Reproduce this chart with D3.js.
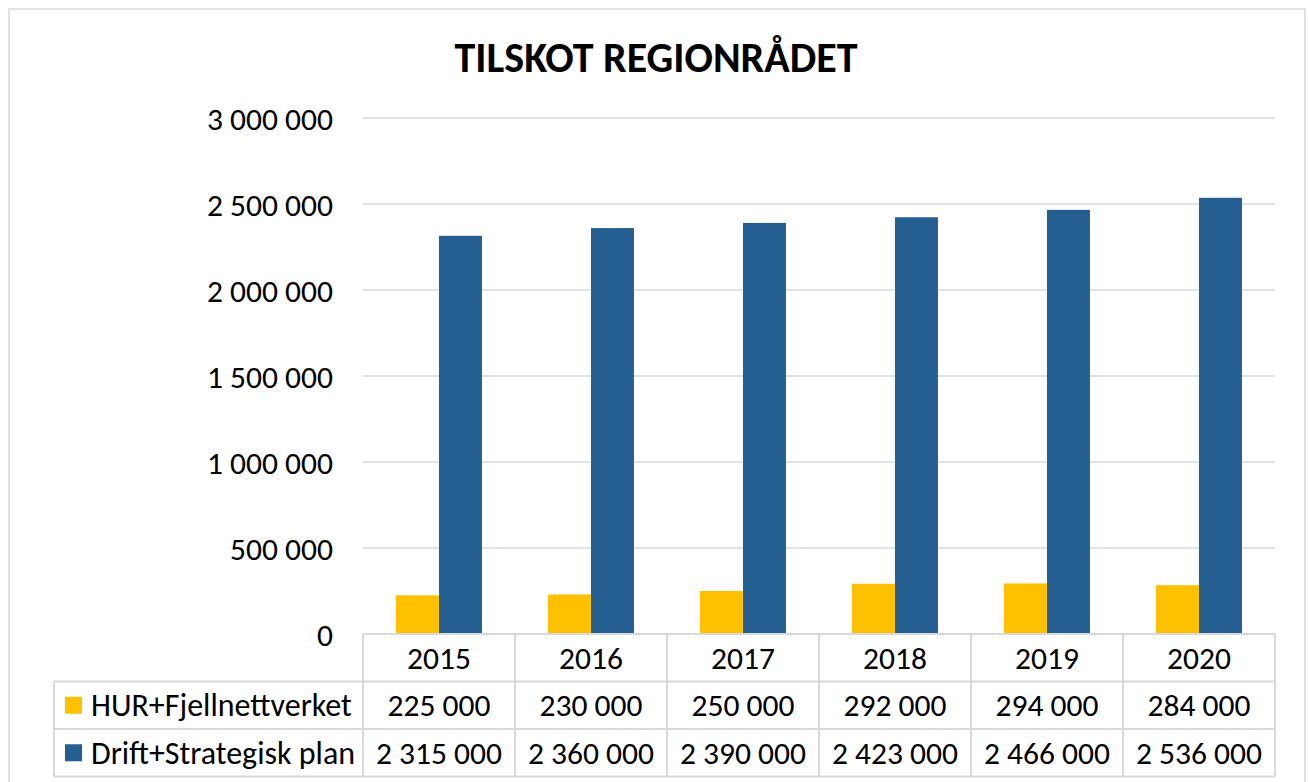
<!DOCTYPE html>
<html><head><meta charset="utf-8">
<script src="https://cdn.jsdelivr.net/npm/d3@7"></script>
<style>
html,body{margin:0;padding:0;background:#fff;}
text{font-family:"Carlito","Lato","Open Sans",sans-serif;fill:#000;}
</style></head>
<body><svg id="c" width="1308" height="782"></svg>
<script>
const years = ["2015","2016","2017","2018","2019","2020"];
const seriesNames = ["HUR+Fjellnettverket","Drift+Strategisk plan"];
const hurValues = [225000,230000,250000,292000,294000,284000];
const driftValues = [2315000,2360000,2390000,2423000,2466000,2536000];
const yTicks = [0,500000,1000000,1500000,2000000,2500000,3000000];
const title = "TILSKOT REGIONRÅDET";
const colors = ["#FFC000","#255E91"];

const svg = d3.select("#c");
const fmt = v => d3.format(",")(v).replace(/,/g," ");
const fs = 31.5;

// outer frame
svg.append("rect").attr("x",9).attr("y",9).attr("width",1296).attr("height",800)
  .attr("fill","#fff").attr("stroke","#d9d9d9").attr("stroke-width",1.5);

const plot = {left:363,right:1275,top:118,bottom:634};
const x0 = d3.scaleBand().domain(years).range([plot.left,plot.right]).padding(0);
const x1 = d3.scaleBand().domain(seriesNames).range([0,x0.bandwidth()]).paddingInner(0).paddingOuter(0.77);
const y = d3.scaleLinear().domain([0,3000000]).range([plot.bottom,plot.top]);

// gridlines
svg.append("g").selectAll("line").data(yTicks.filter(d=>d>0)).join("line")
  .attr("x1",plot.left).attr("x2",plot.right)
  .attr("y1",d=>y(d)).attr("y2",d=>y(d))
  .attr("stroke","#d9d9d9").attr("stroke-width",1.5);

// y axis labels
const yAxis = d3.axisLeft(y).tickValues(yTicks).tickFormat(fmt).tickSize(0).tickPadding(0);
const ya = svg.append("g").attr("transform",`translate(333,0)`).call(yAxis);
ya.select(".domain").remove();
ya.selectAll("text").attr("font-size",fs).attr("font-family",null).attr("dy","0.35em");

// bars
const series = [hurValues, driftValues];
series.forEach((vals,si)=>{
  svg.append("g").selectAll("rect").data(years).join("rect")
    .attr("x",(d)=>x0(d)+x1(seriesNames[si]))
    .attr("width",x1.bandwidth())
    .attr("y",(d,i)=>y(vals[i]))
    .attr("height",(d,i)=>y(0)-y(vals[i]))
    .attr("fill",colors[si]);
});

// data table
const rowH = 47.5;
const tLeft = 54;
const tg = svg.append("g");
const lc = "#d9d9d9";
tg.append("line").attr("x1",plot.left).attr("x2",plot.right).attr("y1",plot.bottom).attr("y2",plot.bottom).attr("stroke",lc).attr("stroke-width",2);
[1,2,3].forEach(r=>{
  tg.append("line").attr("x1",tLeft).attr("x2",plot.right)
    .attr("y1",plot.bottom+r*rowH).attr("y2",plot.bottom+r*rowH).attr("stroke",lc).attr("stroke-width",2);
});
tg.append("line").attr("x1",tLeft).attr("x2",tLeft).attr("y1",plot.bottom+rowH).attr("y2",plot.bottom+3*rowH).attr("stroke",lc).attr("stroke-width",2);
years.forEach(yr=>{
  tg.append("line").attr("x1",x0(yr)).attr("x2",x0(yr)).attr("y1",plot.bottom).attr("y2",plot.bottom+3*rowH).attr("stroke",lc).attr("stroke-width",2);
});
tg.append("line").attr("x1",plot.right).attr("x2",plot.right).attr("y1",plot.bottom).attr("y2",plot.bottom+3*rowH).attr("stroke",lc).attr("stroke-width",2);

tg.selectAll("text.yr").data(years).join("text").attr("class","yr")
  .attr("x",d=>x0(d)+x0.bandwidth()/2).attr("y",plot.bottom+rowH/2).attr("dy","0.35em")
  .attr("text-anchor","middle").attr("font-size",fs).text(d=>d);
series.forEach((vals,si)=>{
  const cy = plot.bottom+(si+1)*rowH+rowH/2;
  tg.append("g").selectAll("text").data(years).join("text")
    .attr("x",d=>x0(d)+x0.bandwidth()/2).attr("y",cy).attr("dy","0.35em")
    .attr("text-anchor","middle").attr("font-size",fs).text((d,i)=>fmt(vals[i]));
  tg.append("rect").attr("x",65).attr("y",cy-8.5).attr("width",17).attr("height",17).attr("fill",colors[si]);
  tg.append("text").attr("x",91).attr("y",cy).attr("dy","0.35em").attr("font-size",32).text(seriesNames[si]);
});

svg.append("text").attr("x",656).attr("y",57).attr("dy","0.35em").attr("text-anchor","middle")
  .attr("font-size",42).attr("font-weight","bold").text(title);
</script></body></html>
